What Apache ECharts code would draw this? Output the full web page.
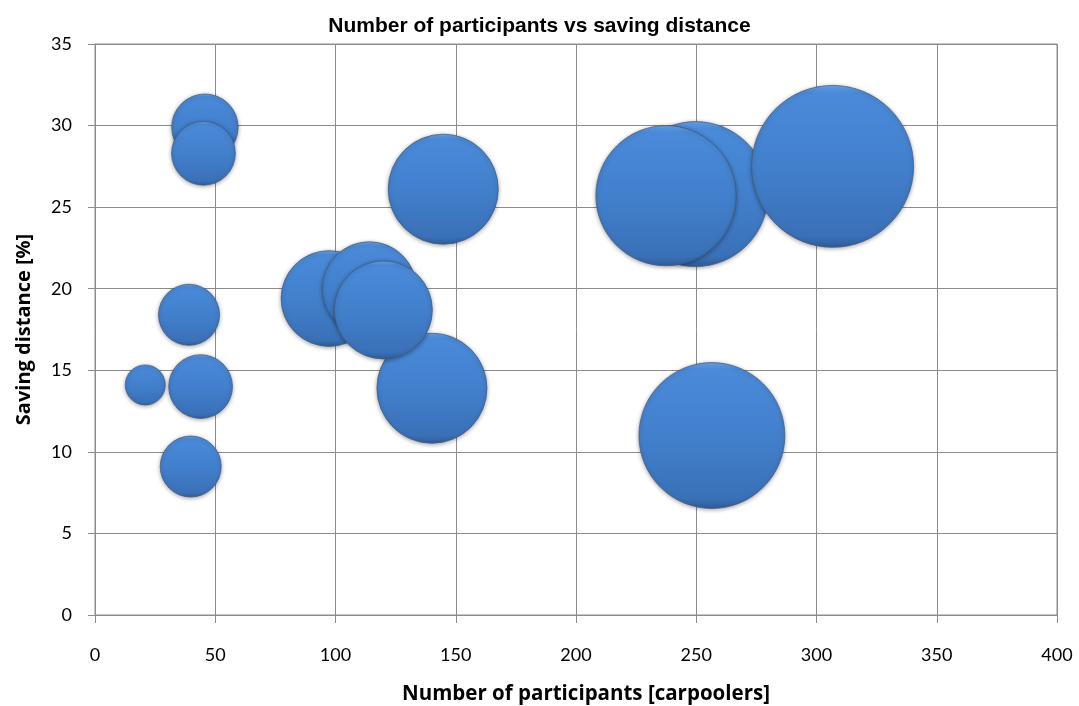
<!DOCTYPE html>
<html>
<head>
<meta charset="utf-8">
<script src="https://cdn.jsdelivr.net/npm/echarts@6/dist/echarts.min.js"></script>
<style>
html,body{margin:0;padding:0;background:#fff;}
#chart{width:1079px;height:706px;}
</style>
</head>
<body>
<div id="chart"></div>
<script>
// Number of participants [carpoolers]
var participants = [45.7, 45.1, 39.1, 20.9, 43.9, 39.8, 140.1, 97.3, 114.1, 119.9, 144.8, 256.5, 249.7, 237.4, 306.7];
// Saving distance [%]
var savingDistance = [29.9, 28.3, 18.4, 14.1, 14.0, 9.1, 13.9, 19.4, 20.0, 18.7, 26.1, 11.0, 25.8, 25.7, 27.5];
// Bubble size values (estimated)
var bubbleSizes = [51, 47, 43, 18.5, 47, 43, 140, 106, 102, 111, 140, 246, 243, 227, 303];

var xTicks = [0, 50, 100, 150, 200, 250, 300, 350, 400];
var yTicks = [0, 5, 10, 15, 20, 25, 30, 35];

var points = participants.map(function (x, i) {
  return [x, savingDistance[i], bubbleSizes[i]];
});

var chart = echarts.init(document.getElementById('chart'), null, {renderer: 'canvas'});
var tickFont = 'Lato, "Open Sans", sans-serif';
var nameFont = '"Open Sans", Lato, sans-serif';
chart.setOption({
  animation: false,
  backgroundColor: '#ffffff',
  title: {
    text: 'Number of participants vs saving distance',
    left: 'center',
    top: 11,
    textStyle: {fontFamily: '"Liberation Sans", Arial, sans-serif', fontWeight: 'bold', fontSize: 21, color: '#000'}
  },
  grid: {left: 95, right: 22, top: 44, bottom: 91, show: true, borderColor: '#8c8c8c', borderWidth: 1, outerBoundsMode: 'none', containLabel: false},
  xAxis: {
    type: 'value',
    min: xTicks[0], max: xTicks[xTicks.length - 1], interval: 50,
    name: 'Number of participants [carpoolers]',
    nameLocation: 'middle', nameGap: 69,
    nameTextStyle: {fontFamily: nameFont, fontWeight: 'bold', fontSize: 20.5, color: '#000', padding: [0, 0, 0, 20]},
    axisLine: {show: true, lineStyle: {color: '#8c8c8c', width: 1}},
    axisTick: {show: true, length: 8, lineStyle: {color: '#8c8c8c'}},
    axisLabel: {fontFamily: tickFont, fontSize: 18, color: '#000', margin: 31},
    splitLine: {show: true, lineStyle: {color: '#8c8c8c', width: 1}}
  },
  yAxis: {
    type: 'value',
    min: yTicks[0], max: yTicks[yTicks.length - 1], interval: 5,
    name: 'Saving distance [%]',
    nameLocation: 'middle', nameGap: 61, nameRotate: 90,
    nameTextStyle: {fontFamily: nameFont, fontWeight: 'bold', fontSize: 20, color: '#000'},
    axisLine: {show: true, lineStyle: {color: '#8c8c8c', width: 1}},
    axisTick: {show: true, length: 7, lineStyle: {color: '#8c8c8c'}},
    axisLabel: {fontFamily: tickFont, fontSize: 18, color: '#000', margin: 23},
    splitLine: {show: true, lineStyle: {color: '#8c8c8c', width: 1}}
  },
  series: [{
    type: 'scatter',
    data: points,
    symbolSize: function (d) { return 9.3 * Math.sqrt(d[2]); },
    itemStyle: {
      color: {
        type: 'linear', x: 0, y: 0, x2: 0, y2: 1,
        colorStops: [
          {offset: 0, color: '#6aa6ec'},
          {offset: 0.05, color: '#4a8ad8'},
          {offset: 0.5, color: '#4280cd'},
          {offset: 0.93, color: '#3a70b7'},
          {offset: 1, color: '#2f5d9a'}
        ]
      },
      borderColor: 'rgba(70,90,120,0.75)',
      borderWidth: 1,
      shadowBlur: 4,
      shadowColor: 'rgba(0,0,0,0.35)',
      shadowOffsetY: 1,
      opacity: 1
    },
    emphasis: {disabled: true}
  }]
});
</script>
</body>
</html>
